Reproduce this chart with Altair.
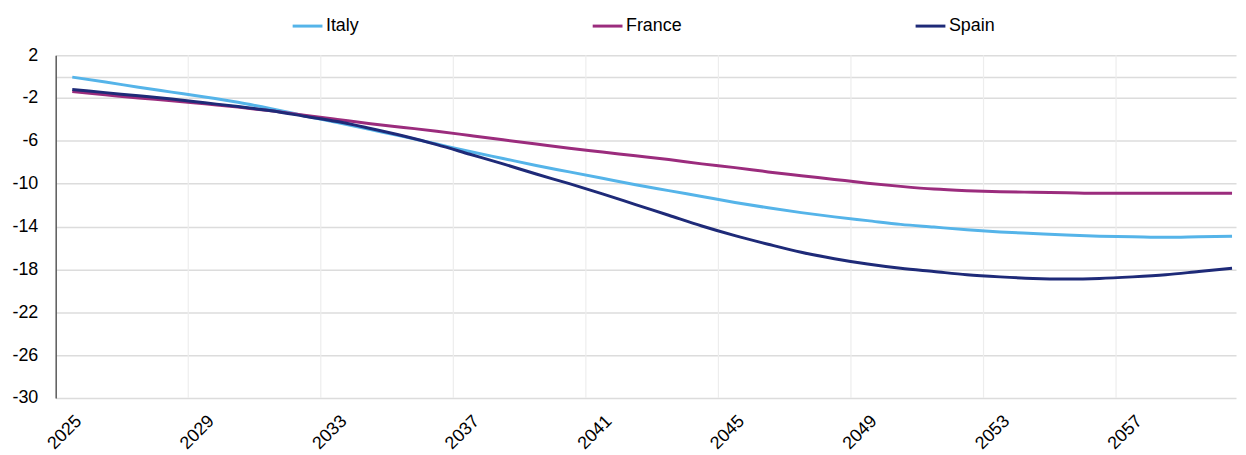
import altair as alt
import pandas as pd

years = list(range(2025, 2061))

italy = [-0.05, -0.5, -1.0, -1.45, -1.9, -2.4, -3.0, -3.65, -4.3, -4.95,
         -5.6, -6.3, -7.0, -7.65, -8.3, -8.9, -9.5, -10.1, -10.65, -11.2,
         -11.75, -12.25, -12.7, -13.1, -13.45, -13.8, -14.05, -14.3, -14.5, -14.65,
         -14.8, -14.9, -14.95, -15.0, -14.95, -14.9]

france = [-1.4, -1.7, -2.0, -2.25, -2.55, -2.85, -3.2, -3.6, -4.0, -4.4,
          -4.75, -5.1, -5.5, -5.9, -6.3, -6.7, -7.05, -7.4, -7.75, -8.15,
          -8.5, -8.9, -9.25, -9.6, -9.95, -10.25, -10.5, -10.65, -10.75, -10.8,
          -10.85, -10.9, -10.9, -10.9, -10.9, -10.9]

spain = [-1.2, -1.5, -1.8, -2.1, -2.45, -2.8, -3.2, -3.7, -4.2, -4.85,
         -5.55, -6.35, -7.25, -8.15, -9.1, -10.0, -10.95, -11.95, -12.95, -13.95,
         -14.85, -15.65, -16.4, -17.0, -17.5, -17.9, -18.2, -18.5, -18.7, -18.85,
         -18.9, -18.85, -18.7, -18.5, -18.2, -17.9]

series_names = ["Italy", "France", "Spain"]
series_colors = ["#55B4E9", "#9B2C7D", "#1E2A78"]

x_tick_years = [2025, 2029, 2033, 2037, 2041, 2045, 2049, 2053, 2057]
y_ticks = [2, 0, -2, -6, -10, -14, -18, -22, -26, -30]
grid_years = [y - 0.5 for y in x_tick_years[1:]]

rows = []
for name, vals in zip(series_names, [italy, france, spain]):
    for yr, v in zip(years, vals):
        rows.append({"year": yr, "value": v, "series": name})
df = pd.DataFrame(rows)

FONT = "Liberation Sans"

x_scale = alt.Scale(domain=[2024.5, 2060.12], nice=False, zero=False)
y_scale = alt.Scale(domain=[-30, 2], nice=False, zero=False)

x_axis = alt.Axis(
    values=x_tick_years, format="d", labelAngle=-45, labelAlign="right",
    labelBaseline="top", grid=False, ticks=False, domain=False,
    labelPadding=14, labelFontSize=18, labelFont=FONT, labelColor="#000000",
    title=None,
)

grid = alt.Chart(pd.DataFrame({"year": grid_years})).mark_rule(
    color="#EDEDED", strokeWidth=1.2
).encode(x=alt.X("year:Q", scale=x_scale, axis=x_axis))

lines = alt.Chart(df).mark_line(strokeWidth=3, interpolate="monotone").encode(
    x=alt.X("year:Q", scale=x_scale, axis=x_axis),
    y=alt.Y(
        "value:Q",
        scale=y_scale,
        axis=alt.Axis(
            values=y_ticks,
            labelExpr="datum.value == 0 ? '' : toString(datum.value)",
            grid=True, gridColor="#DCDCDC", gridWidth=1.5,
            domain=True, domainColor="#595959", domainWidth=1.5,
            ticks=False, labelPadding=18, labelFontSize=18, labelFont=FONT,
            labelColor="#000000", title=None,
        ),
    ),
    color=alt.Color(
        "series:N",
        scale=alt.Scale(domain=series_names, range=series_colors),
        legend=alt.Legend(
            orient="none", legendX=237, legendY=-46, direction="horizontal",
            title=None, symbolType="stroke", symbolSize=900, symbolStrokeWidth=3,
            labelFontSize=18, labelFont=FONT, labelColor="#000000",
            columnPadding=228, labelOffset=2, padding=0,
        ),
    ),
    order=alt.Order("year:Q"),
)

chart = alt.layer(grid, lines).properties(
    width=1188,
    height=345,
    autosize=alt.AutoSizeParams(type="none"),
    padding={"left": 48, "top": 46, "right": 2, "bottom": 56},
    background="white",
).configure_view(stroke=None)

chart.save("out.html", embed_options={"renderer": "svg", "actions": False})
